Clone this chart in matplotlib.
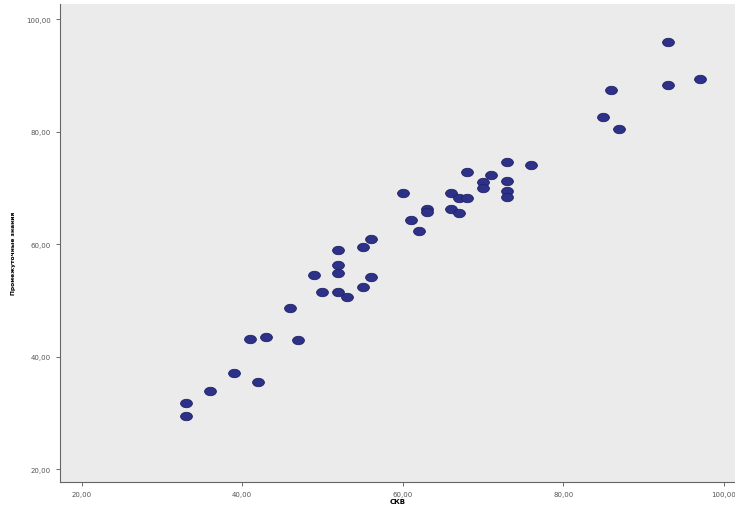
import matplotlib
matplotlib.use("Agg")
import matplotlib.pyplot as plt
from matplotlib.path import Path
from matplotlib.transforms import Affine2D
import numpy as np

# values
x_vals = [33, 33, 36, 39, 42, 41, 43, 47, 46, 49, 50, 52, 52, 52, 52, 53, 55, 56, 56, 55,
          60, 61, 62, 63, 63, 66, 66, 67, 67, 68, 68, 70, 70, 71, 73, 73, 73, 73, 76,
          93, 93, 97, 86, 85, 87]
y_vals = [31.7, 29.5, 33.8, 37.1, 35.4, 43.2, 43.4, 42.9, 48.7, 54.5, 51.4, 59.0, 56.3, 54.8, 51.4,
          50.6, 59.4, 60.9, 54.2, 52.3,
          69.0, 64.3, 62.4, 66.3, 65.7, 69.0, 66.2, 68.2, 65.6, 68.2, 72.9, 71.0, 69.9, 72.3,
          74.6, 71.3, 69.5, 68.3, 74.1,
          96.0, 88.3, 89.3, 87.4, 82.6, 80.4]
ticks = [20, 40, 60, 80, 100]
tick_labels = ["20,00", "40,00", "60,00", "80,00", "100,00"]
x_label = "СКВ"
y_label = "Промежуточные знания"

fig = plt.figure(figsize=(7.35, 5.06), dpi=100)
ax = fig.add_axes([0.0816, 0.0455, 0.9184, 0.9447])
ax.set_facecolor("#ebebeb")

# oval marker, a bit wider than tall
ellipse = Path.unit_circle().transformed(Affine2D().scale(1.4, 1.0))
ax.scatter(x_vals, y_vals, marker=ellipse, s=72, c="#2e3188",
           edgecolors="#1f2266", linewidths=0.6, zorder=3)

ax.set_xlim(17.3, 101.4)
ax.set_ylim(17.7, 102.7)
ax.set_xticks(ticks)
ax.set_xticklabels(tick_labels)
ax.set_yticks(ticks)
ax.set_yticklabels(tick_labels)
ax.tick_params(labelsize=5, colors="#555555", length=3, width=0.6)

for s in ["top", "right"]:
    ax.spines[s].set_visible(False)
for s in ["left", "bottom"]:
    ax.spines[s].set_color("#666666")
    ax.spines[s].set_linewidth(0.8)

ax.set_xlabel(x_label, fontsize=5, fontweight="bold", labelpad=1)
ax.set_ylabel(y_label, fontsize=4.3, fontweight="bold", labelpad=7)
ax.yaxis.set_label_coords(-0.065, 0.48)

fig.savefig("out.png", dpi=100)
